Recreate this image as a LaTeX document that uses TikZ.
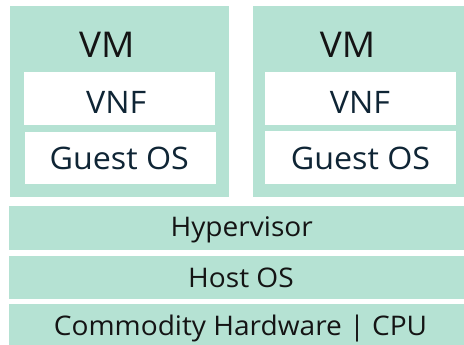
\documentclass[tikz,border=0pt]{standalone}
\usepackage{fontspec}
\setmainfont{Open Sans}[FakeStretch=1.04]
\definecolor{mint}{HTML}{B5E2D3}
\definecolor{navy}{HTML}{0F2535}
\definecolor{ink}{HTML}{141414}
\begin{document}
\begin{tikzpicture}[x=1pt,y=-1pt,
  layer/.style={fill=mint,draw=none,inner sep=0pt,anchor=north west},
  inbox/.style={fill=white,draw=none,inner sep=0pt,anchor=north west},
  vmlbl/.style={inner sep=0pt,anchor=base,text=ink,font=\fontsize{35.5}{35.5}\selectfont},
  inlbl/.style={inner sep=0pt,anchor=base,text=navy,font=\fontsize{31}{31}\selectfont},
  barlbl/.style={inner sep=0pt,anchor=base,text=ink,font=\fontsize{27}{27}\selectfont}]
\useasboundingbox (0,0) rectangle (464,345);
% VM containers
\node[layer,minimum width=219pt,minimum height=191pt] (vmA) at (10,6) {};
\node[layer,minimum width=211pt,minimum height=191pt] (vmB) at (253,6) {};
% inner boxes
\node[inbox,minimum width=191pt,minimum height=53pt] (vnfA) at (24,72) {};
\node[inbox,minimum width=191pt,minimum height=52pt] (gosA) at (25,132) {};
\node[inbox,minimum width=191pt,minimum height=53pt] (vnfB) at (265,72) {};
\node[inbox,minimum width=191pt,minimum height=53pt] (gosB) at (265,131) {};
% bars
\node[layer,minimum width=455pt,minimum height=44pt] (hyp) at (9,206) {};
\node[layer,minimum width=455pt,minimum height=43pt] (host) at (9,256) {};
\node[layer,minimum width=455pt,minimum height=41pt] (hw) at (9,304) {};
% labels
\node[vmlbl] (vmAl) at (106.7,57.5) {VM};
\node[vmlbl] (vmBl) at (347.5,57.5) {VM};
\node[inlbl] (vnfAl) at (116.2,113.3) {VNF};
\node[inlbl] (gosAl) at (119.2,169.5) {Guest OS};
\node[inlbl] (vnfBl) at (360,113.3) {VNF};
\node[inlbl] (gosBl) at (360.5,169.5) {Guest OS};
\node[barlbl] (hypl) at (241.7,236.7) {Hypervisor};
\node[barlbl] (hostl) at (241,287) {Host OS};
\node[barlbl] (hwl) at (240.5,335) {Commodity Hardware | CPU};
\end{tikzpicture}
\end{document}
